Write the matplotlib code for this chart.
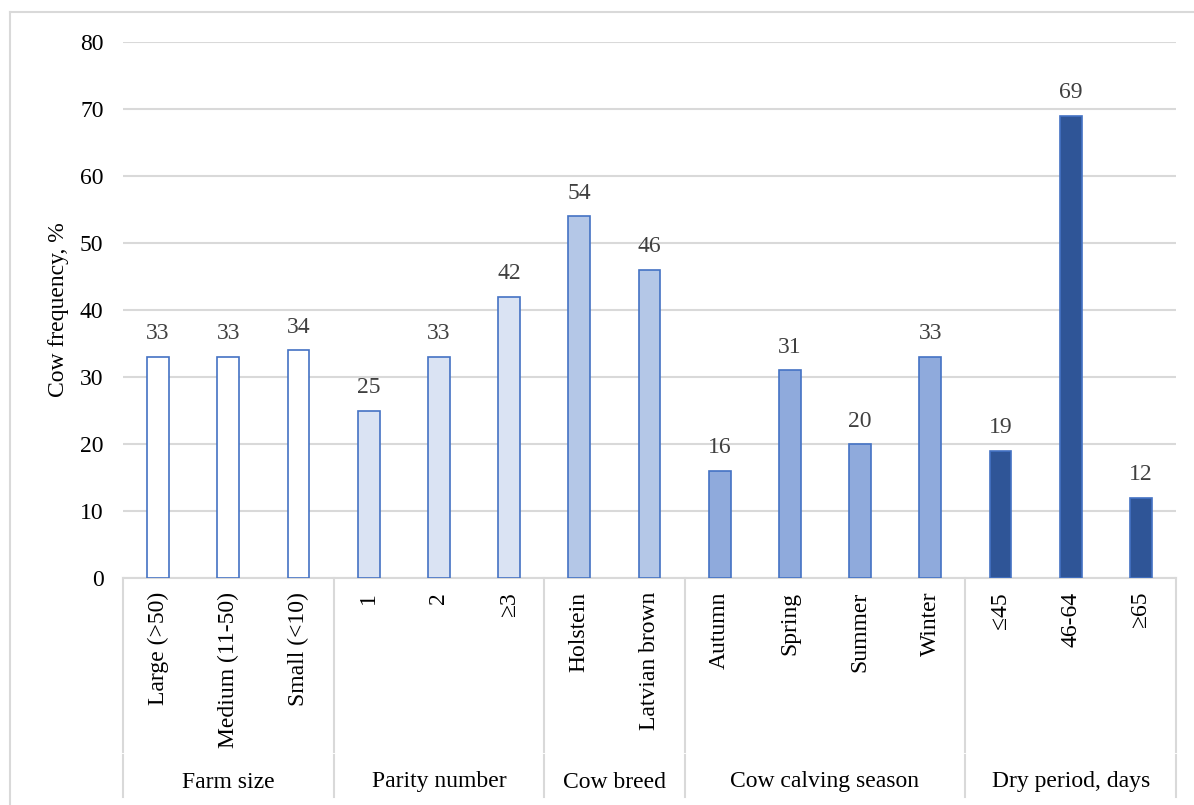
import numpy as np
import matplotlib.pyplot as plt
from matplotlib.lines import Line2D

plt.rcParams['font.family'] = ['Liberation Serif', 'DejaVu Serif']

# Data
groups = ['Farm size', 'Parity number', 'Cow breed', 'Cow calving season', 'Dry period, days']
categories = [
    ['Large (>50)', 'Medium (11-50)', 'Small (<10)'],
    ['1', '2', '≥3'],
    ['Holstein', 'Latvian brown'],
    ['Autumn', 'Spring', 'Summer', 'Winter'],
    ['≤45', '46-64', '≥65'],
]
values = [
    [33, 33, 34],
    [25, 33, 42],
    [54, 46],
    [16, 31, 20, 33],
    [19, 69, 12],
]
fill_colors = ['#FFFFFF', '#DAE3F3', '#B4C7E7', '#8FAADC', '#2F5597']
edge_color = '#4472C4'

W, H = 1194, 805
fig = plt.figure(figsize=(W / 100, H / 100), dpi=100)
left, right, top, bottom = 123, 1176, 42, 578
ax = fig.add_axes([left / W, 1 - bottom / H, (right - left) / W, (bottom - top) / H])

labels = [c for cats in categories for c in cats]
x = np.arange(len(labels))
start = 0
for g, vals in enumerate(values):
    xs = x[start:start + len(vals)]
    bars = ax.bar(xs, vals, width=0.31, color=fill_colors[g], edgecolor=edge_color,
                  linewidth=1.2, zorder=3)
    ax.bar_label(bars, padding=9, fontsize=17, color='#404040')
    start += len(vals)

ax.set_xlim(-0.5, len(labels) - 0.5)
ax.set_ylim(0, 80)
ax.set_yticks(range(0, 81, 10))
ax.tick_params(axis='y', length=0, labelsize=17, pad=14, labelcolor='#000000')
ax.yaxis.grid(True, color='#D9D9D9', linewidth=1.5, zorder=0)
ax.set_axisbelow(True)
for s in ['top', 'right', 'left']:
    ax.spines[s].set_visible(False)
ax.spines['bottom'].set_color('#D9D9D9')
ax.spines['bottom'].set_linewidth(1.5)

ax.set_xticks(x)
ax.set_xticklabels(labels, rotation=90, va='top', ha='center', fontsize=17)
ax.tick_params(axis='x', length=0, pad=10)

ax.set_ylabel('Cow frequency, %', fontsize=17)
ax.yaxis.set_label_coords(-0.051, 0.5)

# group separators and group labels below the axis
axh = bottom - top
y_mid1 = -(752 - bottom) / axh
y_mid2 = -(755 - bottom) / axh
y_end = -(797 - bottom) / axh
trans = ax.get_xaxis_transform()
bounds = [-0.5]
for cats in categories:
    bounds.append(bounds[-1] + len(cats))
for b in bounds:
    for y0, y1 in [(0, y_mid1), (y_mid2, y_end)]:
        ax.add_line(Line2D([b, b], [y0, y1], transform=trans, color='#D9D9D9',
                           linewidth=1.5, clip_on=False))
y_grp = -(782 - bottom) / axh
for g, name in enumerate(groups):
    xc = (bounds[g] + bounds[g + 1]) / 2
    ax.text(xc, y_grp, name, transform=trans, ha='center', va='center', fontsize=17)

# outer chart border (top and left only visible in crop)
fig.add_artist(Line2D([10 / W, 1.0], [1 - 12 / H, 1 - 12 / H], transform=fig.transFigure,
                      color='#D9D9D9', linewidth=1.5))
fig.add_artist(Line2D([10 / W, 10 / W], [0, 1 - 12 / H], transform=fig.transFigure,
                      color='#D9D9D9', linewidth=1.5))

fig.savefig('out.png', dpi=100)
